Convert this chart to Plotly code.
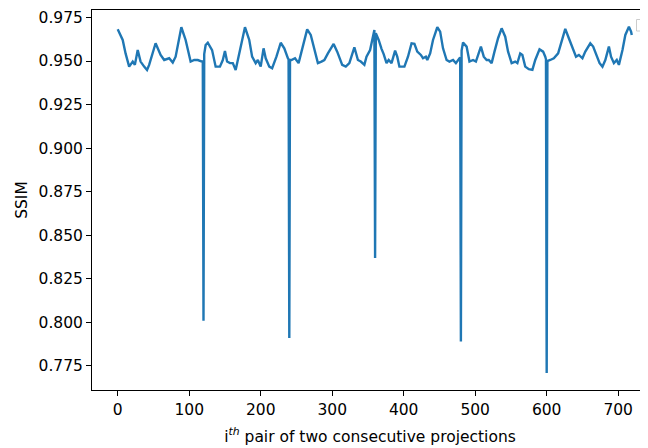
import plotly.graph_objects as go

# Values (pair index, SSIM)
pair_index = [
    0, 7, 11, 16, 21, 24, 28, 32, 37, 41, 44, 53, 60, 65, 72, 77, 81, 89, 95, 102,
    107, 112, 118, 119, 120, 121, 123, 126, 132, 137, 143, 147, 150, 153, 157, 161,
    165, 168, 178, 184, 188, 193, 196, 200, 204, 207, 212, 216, 222, 228, 233, 238,
    239, 240, 241, 243, 248, 253, 258, 265, 270, 275, 280, 285, 289, 294, 302, 307,
    314, 319, 324, 331, 336, 340, 345, 348, 353, 359, 360, 361, 365, 369, 372, 376,
    379, 383, 388, 391, 394, 401, 406, 411, 415, 419, 424, 427, 431, 433, 437, 441,
    447, 451, 455, 460, 464, 469, 473, 478, 479, 480, 481, 483, 488, 492, 497, 501,
    505, 508, 512, 516, 519, 523, 527, 532, 537, 542, 546, 551, 556, 559, 563, 566,
    570, 575, 580, 584, 590, 595, 598, 599, 600, 601, 605, 610, 616, 621, 626, 631,
    636, 641, 645, 650, 654, 661, 665, 670, 674, 678, 682, 687, 690, 694, 698, 701,
    706, 710, 715, 718, 719,
]
ssim = [
    0.9682, 0.9621, 0.9544, 0.9468, 0.9497, 0.9478, 0.9563, 0.9497, 0.9468, 0.9449,
    0.9478, 0.9602, 0.9535, 0.9506, 0.9516, 0.9491, 0.9525, 0.9694, 0.9621, 0.9497,
    0.9506, 0.9506, 0.9497, 0.9500, 0.8010, 0.9540, 0.9592, 0.9605, 0.9563, 0.9468,
    0.9468, 0.9506, 0.9558, 0.9497, 0.9488, 0.9488, 0.9449, 0.9506, 0.9694, 0.9621,
    0.9525, 0.9488, 0.9506, 0.9468, 0.9573, 0.9516, 0.9468, 0.9459, 0.9525, 0.9605,
    0.9573, 0.9516, 0.9510, 0.7910, 0.9506, 0.9506, 0.9516, 0.9488, 0.9573, 0.9682,
    0.9650, 0.9563, 0.9488, 0.9497, 0.9506, 0.9544, 0.9598, 0.9554, 0.9478, 0.9468,
    0.9488, 0.9579, 0.9506, 0.9497, 0.9478, 0.9525, 0.9563, 0.9678, 0.8370, 0.9660,
    0.9621, 0.9570, 0.9540, 0.9488, 0.9506, 0.9488, 0.9560, 0.9525, 0.9468, 0.9468,
    0.9525, 0.9602, 0.9599, 0.9554, 0.9535, 0.9516, 0.9525, 0.9506, 0.9544, 0.9621,
    0.9694, 0.9669, 0.9573, 0.9506, 0.9497, 0.9506, 0.9488, 0.9516, 0.9520, 0.7890,
    0.9560, 0.9606, 0.9583, 0.9497, 0.9506, 0.9497, 0.9544, 0.9583, 0.9525, 0.9506,
    0.9506, 0.9488, 0.9554, 0.9631, 0.9688, 0.9640, 0.9554, 0.9488, 0.9497, 0.9488,
    0.9544, 0.9535, 0.9468, 0.9453, 0.9449, 0.9506, 0.9567, 0.9554, 0.9525, 0.9510,
    0.7710, 0.9500, 0.9506, 0.9516, 0.9544, 0.9621, 0.9685, 0.9631, 0.9573, 0.9525,
    0.9535, 0.9516, 0.9554, 0.9602, 0.9583, 0.9525, 0.9488, 0.9468, 0.9506, 0.9583,
    0.9525, 0.9488, 0.9506, 0.9478, 0.9563, 0.9650, 0.9697, 0.9669, 0.9650,
]

x_ticks = [0, 100, 200, 300, 400, 500, 600, 700]
y_ticks = [0.775, 0.800, 0.825, 0.850, 0.875, 0.900, 0.925, 0.950, 0.975]

FONT = "DejaVu Sans"
FS = 15.5

fig = go.Figure()
fig.add_trace(go.Scatter(
    x=pair_index, y=ssim, mode="lines",
    line=dict(color="#1f77b4", width=2.4),
    showlegend=False,
))

axis_common = dict(
    showgrid=False, zeroline=False, showline=True, linecolor="black", linewidth=1,
    ticks="outside", ticklen=5, tickwidth=1, tickcolor="black", automargin=False,
    tickfont=dict(family=FONT, size=FS, color="black"),
)

# page body has an 8px margin: the figure is 640x440 so it ends at the window edge
fig.update_layout(
    width=640, height=440,
    margin=dict(l=84, r=0, t=2, b=58, autoexpand=False),
    paper_bgcolor="white", plot_bgcolor="white",
    font=dict(family=FONT, size=FS, color="black"),
    xaxis=dict(
        **axis_common,
        range=[-35.95, 741.7], tickvals=x_ticks, mirror=True,
        title=dict(text="i<sup><i>th</i></sup> pair of two consecutive projections",
                   font=dict(family=FONT, size=FS, color="black"), standoff=13),
    ),
    yaxis=dict(
        **axis_common,
        range=[0.7612, 0.9793], tickvals=y_ticks, tickformat=".3f", mirror=False,
        title=dict(text="SSIM", font=dict(family=FONT, size=FS, color="black"), standoff=7),
    ),
    shapes=[dict(
        type="rect", xref="paper", yref="paper", layer="above",
        x0=0.9793, x1=1.03, y0=0.9447, y1=0.975,
        line=dict(color="#cccccc", width=1), fillcolor="white",
    )],
)

fig.write_html("out.html")
